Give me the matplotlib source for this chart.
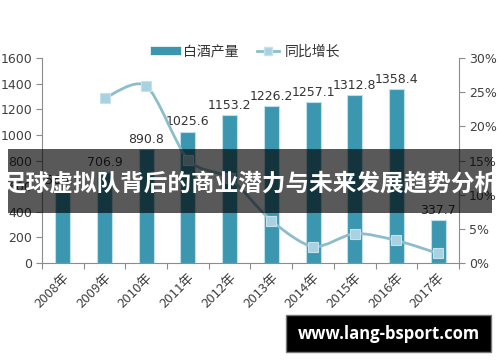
import matplotlib
matplotlib.use("Agg")
import matplotlib.pyplot as plt
from matplotlib.lines import Line2D
from matplotlib.patches import Rectangle, PathPatch
from matplotlib.path import Path
from matplotlib.ticker import FuncFormatter, FixedLocator

plt.rcParams['font.family'] = ['Noto Sans CJK SC', 'DejaVu Sans']

years = ["2008年", "2009年", "2010年", "2011年", "2012年", "2013年", "2014年", "2015年", "2016年", "2017年"]
output = [569.3, 706.9, 890.8, 1025.6, 1153.2, 1226.2, 1257.1, 1312.8, 1358.4, 337.7]
growth = [None, 24.1, 25.9, 15.1, 12.4, 6.2, 2.4, 4.3, 3.3, 1.4]
left_ticks = [0, 200, 400, 600, 800, 1000, 1200, 1400, 1600]
right_ticks = [0, 5, 10, 15, 20, 25, 30]

W, H = 500, 362
fig = plt.figure(figsize=(W / 100, H / 100), dpi=100)
ax = fig.add_axes([42 / W, 1 - 263 / H, (459 - 42) / W, (263 - 58) / H])
ax2 = ax.twinx()

bar_color = "#3b97b0"
line_color = "#8dbdcc"
marker_color = "#a8d2e2"
axis_grey = "#8c8c8c"
text_grey = "#404040"

x = list(range(len(years)))
bars = ax.bar(x, output, width=0.36, color=bar_color, edgecolor="#bfe0ea", linewidth=0.8, zorder=2)
for xi, v in zip(x, output):
    ax.text(xi, v + 25, f"{v:.1f}", ha="center", va="bottom", fontsize=9, color="#333333",
            family="DejaVu Sans", zorder=3)

ax.set_xlim(-0.5, len(years) - 0.5)
ax.set_ylim(0, 1600)
ax.set_yticks(left_ticks)
ax.set_yticklabels([str(t) for t in left_ticks], fontsize=9, color=text_grey, family="DejaVu Sans")
ax.xaxis.set_major_locator(FixedLocator([i - 0.5 for i in range(len(years) + 1)]))
ax.xaxis.set_minor_locator(FixedLocator(x))
ax.set_xticklabels([])
ax.set_xticklabels(years, minor=True, rotation=45, ha="right", va="top",
                   rotation_mode="anchor", fontsize=9.5, color=text_grey)
ax.tick_params(axis="x", which="major", length=4, color=axis_grey, direction="out")
ax.tick_params(axis="x", which="minor", length=0, pad=6)
ax.tick_params(axis="y", length=4, color=axis_grey, direction="out", pad=3)
for s in ["top", "right"]:
    ax.spines[s].set_visible(False)
for s in ["left", "bottom"]:
    ax.spines[s].set_color(axis_grey)

# growth line (smoothed drawing via Bezier path through the data points)
gx = [xi for xi, g in zip(x, growth) if g is not None]
gy = [g for g in growth if g is not None]
verts = [(gx[0], gy[0])]
codes = [Path.MOVETO]
n = len(gx)
t = 0.14
for i in range(n - 1):
    p0 = (gx[i - 1], gy[i - 1]) if i > 0 else (gx[i], gy[i])
    p1 = (gx[i], gy[i])
    p2 = (gx[i + 1], gy[i + 1])
    p3 = (gx[i + 2], gy[i + 2]) if i + 2 < n else p2
    c1 = (p1[0] + (p2[0] - p0[0]) * t, p1[1] + (p2[1] - p0[1]) * t)
    c2 = (p2[0] - (p3[0] - p1[0]) * t, p2[1] - (p3[1] - p1[1]) * t)
    verts += [c1, c2, p2]
    codes += [Path.CURVE4] * 3
ax2.add_patch(PathPatch(Path(verts, codes), facecolor="none", edgecolor=line_color, lw=2, zorder=3))
ax2.plot(gx, gy, linestyle="none", marker="s", markersize=7, markerfacecolor=marker_color,
         markeredgecolor="#c5e2ec", markeredgewidth=0.8, zorder=4)
ax2.set_ylim(0, 30)
ax2.set_yticks(right_ticks)
ax2.yaxis.set_major_formatter(FuncFormatter(lambda v, p: f"{v:.0f}%"))
for lab in ax2.get_yticklabels():
    lab.set_fontsize(9)
    lab.set_color(text_grey)
    lab.set_family("DejaVu Sans")
ax2.tick_params(axis="y", length=4, color=axis_grey, direction="out", pad=3)
for s in ["top", "left", "bottom"]:
    ax2.spines[s].set_visible(False)
ax2.spines["right"].set_color(axis_grey)

# legend
handles = [Line2D([], [], color=bar_color, lw=6),
           Line2D([], [], color=line_color, lw=2, marker="s", markersize=6,
                  markerfacecolor=marker_color, markeredgecolor="#c5e2ec")]
fig.legend(handles, ["白酒产量", "同比增长"], loc="center", bbox_to_anchor=(0.495, 1 - 52 / H),
           ncol=2, frameon=False, fontsize=10, handlelength=1.6, columnspacing=1.3,
           labelcolor="#333333", handletextpad=0.4)

# overlay banner
fig.patches.append(Rectangle((8 / W, 1 - 213 / H), (492 - 8) / W, (213 - 149) / H,
                             transform=fig.transFigure, facecolor="black", alpha=0.65,
                             edgecolor="none", zorder=10))
fig.text(0.5, 1 - 183 / H, "足球虚拟队背后的商业潜力与未来发展趋势分析", ha="center", va="center",
         fontsize=17, color="white", fontweight="bold", zorder=11)

# watermark box
fig.patches.append(Rectangle((286 / W, 1 - 352 / H), (491 - 286) / W, (352 - 315) / H,
                             transform=fig.transFigure, facecolor="black", edgecolor="#777777",
                             linewidth=1, zorder=10))
fig.text((286 + 491) / 2 / W, 1 - 334 / H, "www.lang-bsport.com", ha="center", va="center",
         fontsize=12, color="white", fontweight="bold", family="Open Sans", zorder=11)

fig.savefig("out.png", dpi=100)
